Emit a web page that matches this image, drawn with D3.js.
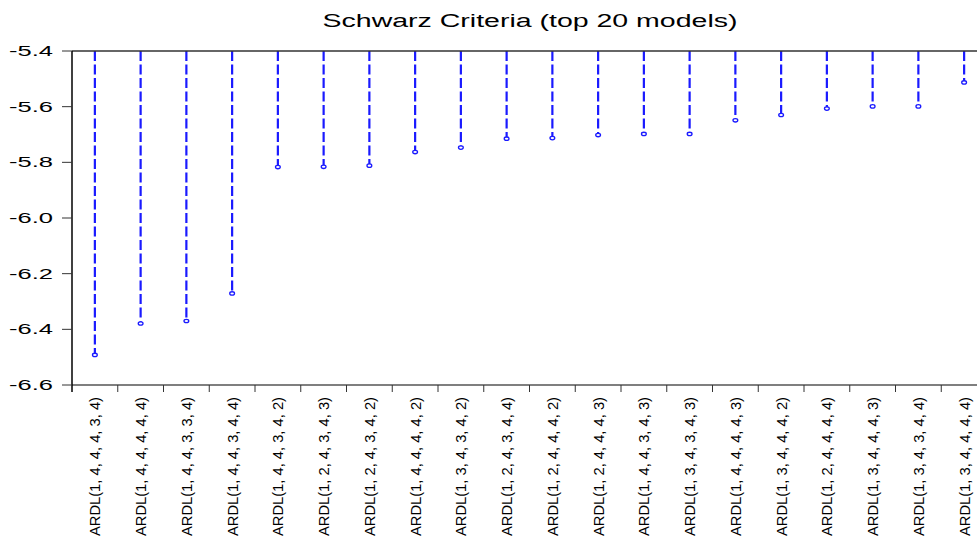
<!DOCTYPE html>
<html>
<head>
<meta charset="utf-8">
<script src="https://cdn.jsdelivr.net/npm/d3@7"></script>
<style>
  html, body { margin: 0; padding: 0; background: #fff; }
  svg { display: block; }
</style>
</head>
<body>
<svg id="chart" width="977" height="546"></svg>
<script>
const title = "Schwarz Criteria (top 20 models)";
const categories = [
  "ARDL(1, 4, 4, 4, 3, 4)", "ARDL(1, 4, 4, 4, 4, 4)", "ARDL(1, 4, 4, 3, 3, 4)",
  "ARDL(1, 4, 4, 3, 4, 4)", "ARDL(1, 4, 4, 3, 4, 2)", "ARDL(1, 2, 4, 3, 4, 3)",
  "ARDL(1, 2, 4, 3, 4, 2)", "ARDL(1, 4, 4, 4, 4, 2)", "ARDL(1, 3, 4, 3, 4, 2)",
  "ARDL(1, 2, 4, 3, 4, 4)", "ARDL(1, 2, 4, 4, 4, 2)", "ARDL(1, 2, 4, 4, 4, 3)",
  "ARDL(1, 4, 4, 3, 4, 3)", "ARDL(1, 3, 4, 3, 4, 3)", "ARDL(1, 4, 4, 4, 4, 3)",
  "ARDL(1, 3, 4, 4, 4, 2)", "ARDL(1, 2, 4, 4, 4, 4)", "ARDL(1, 3, 4, 4, 4, 3)",
  "ARDL(1, 3, 4, 3, 4, 4)", "ARDL(1, 3, 4, 4, 4, 4)"
];
const values = [
  -6.492, -6.379, -6.370, -6.271, -5.817, -5.816, -5.812, -5.763, -5.747, -5.715,
  -5.713, -5.702, -5.698, -5.698, -5.649, -5.630, -5.607, -5.599, -5.599, -5.513
];
const yTicks = [-5.4, -5.6, -5.8, -6.0, -6.2, -6.4, -6.6];
const yTickLabels = ["-5.4", "-5.6", "-5.8", "-6.0", "-6.2", "-6.4", "-6.6"];
const yDomain = [-6.6, -5.4];

(function () {
const svg = d3.select("#chart");
const pLeft = 72, pTop = 51, pBottom = 385, pRight = 987;

const x = d3.scaleBand().domain(categories).range([pLeft, pRight]).padding(0);
const y = d3.scaleLinear().domain(yDomain).range([pBottom, pTop]);

// Title
svg.append("text")
  .attr("transform", `translate(530,27) scale(1.5,1)`)
  .attr("text-anchor", "middle")
  .attr("font-family", "Liberation Sans, Arial, sans-serif")
  .attr("font-size", 19)
  .attr("fill", "#000")
  .text(title);

// Stems
const blue = "#1a1aff";
svg.append("g").selectAll("line")
  .data(values)
  .join("line")
  .attr("x1", (d, i) => x(categories[i]) + x.bandwidth() / 2)
  .attr("x2", (d, i) => x(categories[i]) + x.bandwidth() / 2)
  .attr("y1", y(yDomain[1]))
  .attr("y2", d => y(d))
  .attr("stroke", blue)
  .attr("stroke-width", 2.2)
  .attr("stroke-dasharray", "10,3.5");

// Frame
const frame = svg.append("g").attr("stroke", "#000").attr("fill", "none");
frame.append("line").attr("x1", pLeft).attr("x2", pRight).attr("y1", pTop).attr("y2", pTop).attr("stroke-width", 1.5).attr("stroke", "#333");
frame.append("line").attr("x1", pLeft).attr("x2", pRight).attr("y1", pBottom).attr("y2", pBottom).attr("stroke-width", 1.2);
frame.append("line").attr("x1", pLeft).attr("x2", pLeft).attr("y1", pTop).attr("y2", pBottom + 7).attr("stroke-width", 1.5);

// Y ticks
const yAxis = svg.append("g");
yAxis.selectAll("line")
  .data(yTicks)
  .join("line")
  .attr("x1", pLeft - 10).attr("x2", pLeft)
  .attr("y1", d => y(d)).attr("y2", d => y(d))
  .attr("stroke", "#333").attr("stroke-width", 1);
yAxis.selectAll("text")
  .data(yTicks)
  .join("text")
  .attr("transform", d => `translate(53,${y(d) + 5}) scale(1.85,1)`)
  .attr("text-anchor", "end")
  .attr("font-family", "Liberation Sans, Arial, sans-serif")
  .attr("font-size", 13.8)
  .attr("fill", "#000")
  .text((d, i) => yTickLabels[i]);

// X ticks at band boundaries
const xAxis = svg.append("g");
xAxis.selectAll("line")
  .data(categories)
  .join("line")
  .attr("x1", d => x(d) + x.bandwidth())
  .attr("x2", d => x(d) + x.bandwidth())
  .attr("y1", pBottom).attr("y2", pBottom + 7)
  .attr("stroke", "#333").attr("stroke-width", 1);
xAxis.selectAll("text")
  .data(categories)
  .join("text")
  .attr("transform", d => `translate(${x(d) + x.bandwidth() / 2 + 5.5},397) rotate(-90) scale(0.95,1)`)
  .attr("text-anchor", "end")
  .attr("font-family", "Liberation Sans, Arial, sans-serif")
  .attr("font-size", 15.5)
  .attr("fill", "#000")
  .text(d => d);

// Points
svg.append("g").selectAll("ellipse")
  .data(values)
  .join("ellipse")
  .attr("cx", (d, i) => x(categories[i]) + x.bandwidth() / 2)
  .attr("cy", d => y(d))
  .attr("rx", 2.4)
  .attr("ry", 1.7)
  .attr("fill", "#fff")
  .attr("stroke", blue)
  .attr("stroke-width", 1.3);
})();
</script>
</body>
</html>
